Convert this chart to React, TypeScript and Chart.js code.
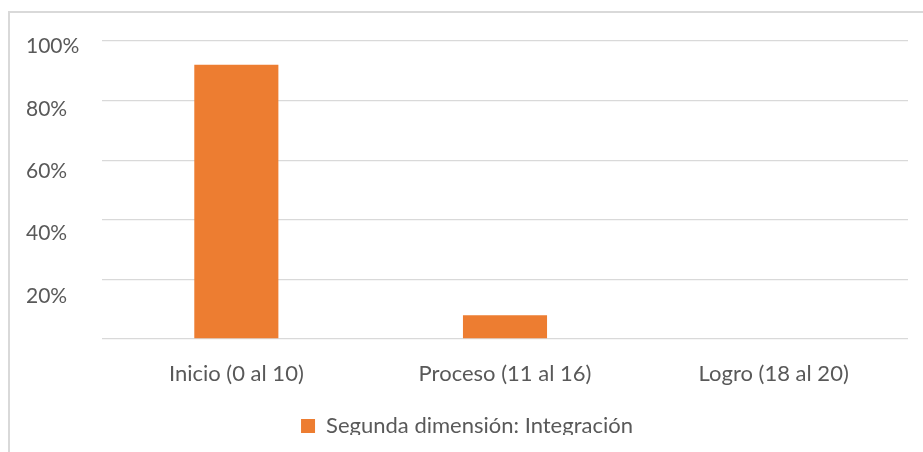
import React, { useEffect, useRef } from "react";
import { Chart, registerables } from "chart.js";

Chart.register(...registerables);

// ---- data ----
const categories = ["Inicio (0 al 10)", "Proceso (11 al 16)", "Logro (18 al 20)"];
const seriesLabel = "Segunda dimensión: Integración";
const seriesValues = [0.92, 0.08, 0];
const yTickValues = [0.2, 0.4, 0.6, 0.8, 1.0];

// ---- style ----
const FONT_FAMILY = "Lato, 'Open Sans', sans-serif";
const TEXT_COLOR = "#595959";
const GRID_COLOR = "#d9d9d9";
const BAR_COLOR = "#ed7d31";

export default function App() {
  const canvasRef = useRef<HTMLCanvasElement | null>(null);

  useEffect(() => {
    const canvas = canvasRef.current;
    if (!canvas) return;
    const chart = new Chart(canvas, {
      type: "bar",
      data: {
        labels: categories,
        datasets: [
          {
            label: seriesLabel,
            data: seriesValues,
            backgroundColor: BAR_COLOR,
            borderWidth: 0,
            categoryPercentage: 1,
            barPercentage: 0.313,
          },
        ],
      },
      options: {
        animation: false,
        responsive: false,
        maintainAspectRatio: false,
        layout: { padding: { left: 26, right: 15, top: 41, bottom: 5 } },
        plugins: {
          tooltip: { enabled: false },
          legend: {
            position: "bottom",
            labels: {
              boxWidth: 14,
              boxHeight: 14,
              color: TEXT_COLOR,
              font: { family: FONT_FAMILY, size: 22 },
              padding: 10,
            },
          },
        },
        scales: {
          x: {
            grid: { display: false, drawTicks: false },
            border: { display: false },
            ticks: {
              color: TEXT_COLOR,
              font: { family: FONT_FAMILY, size: 22 },
              padding: 22,
              maxRotation: 0,
            },
            afterFit: (s: any) => {
              s.height = 66;
            },
          },
          y: {
            min: 0,
            max: 1,
            position: "left",
            grid: { color: GRID_COLOR, lineWidth: 1.3, drawTicks: false },
            border: { display: false },
            ticks: { display: false, stepSize: 0.2 },
            afterFit: (s: any) => {
              s.width = 0;
            },
          },
          yLabels: {
            type: "linear",
            position: "left",
            min: 0.062,
            max: 1.018,
            grid: { display: false, drawTicks: false },
            border: { display: false },
            afterBuildTicks: (s: any) => {
              s.ticks = yTickValues.map((v) => ({ value: v }));
            },
            ticks: {
              color: TEXT_COLOR,
              font: { family: FONT_FAMILY, size: 21 },
              crossAlign: "far",
              padding: 0,
              callback: (v: any) => `${Math.round(Number(v) * 100)}%`,
            },
            afterFit: (s: any) => {
              s.width = 76;
            },
          },
        },
      },
    });
    return () => chart.destroy();
  }, []);

  return (
    <div
      style={{
        position: "fixed",
        left: 0,
        top: 0,
        width: 923,
        height: 452,
        background: "#ffffff",
        overflow: "hidden",
      }}
    >
      <div
        style={{
          position: "absolute",
          left: 8,
          top: 11,
          right: 0,
          bottom: 0,
          borderLeft: `2px solid ${GRID_COLOR}`,
          borderTop: `2px solid ${GRID_COLOR}`,
        }}
      />
      <div
        style={{
          position: "absolute",
          left: 0,
          top: 0,
          width: 923,
          height: 435,
          overflow: "hidden",
        }}
      >
        <canvas
          ref={canvasRef}
          width={923}
          height={452}
          style={{ display: "block", width: 923, height: 452 }}
        />
      </div>
    </div>
  );
}
